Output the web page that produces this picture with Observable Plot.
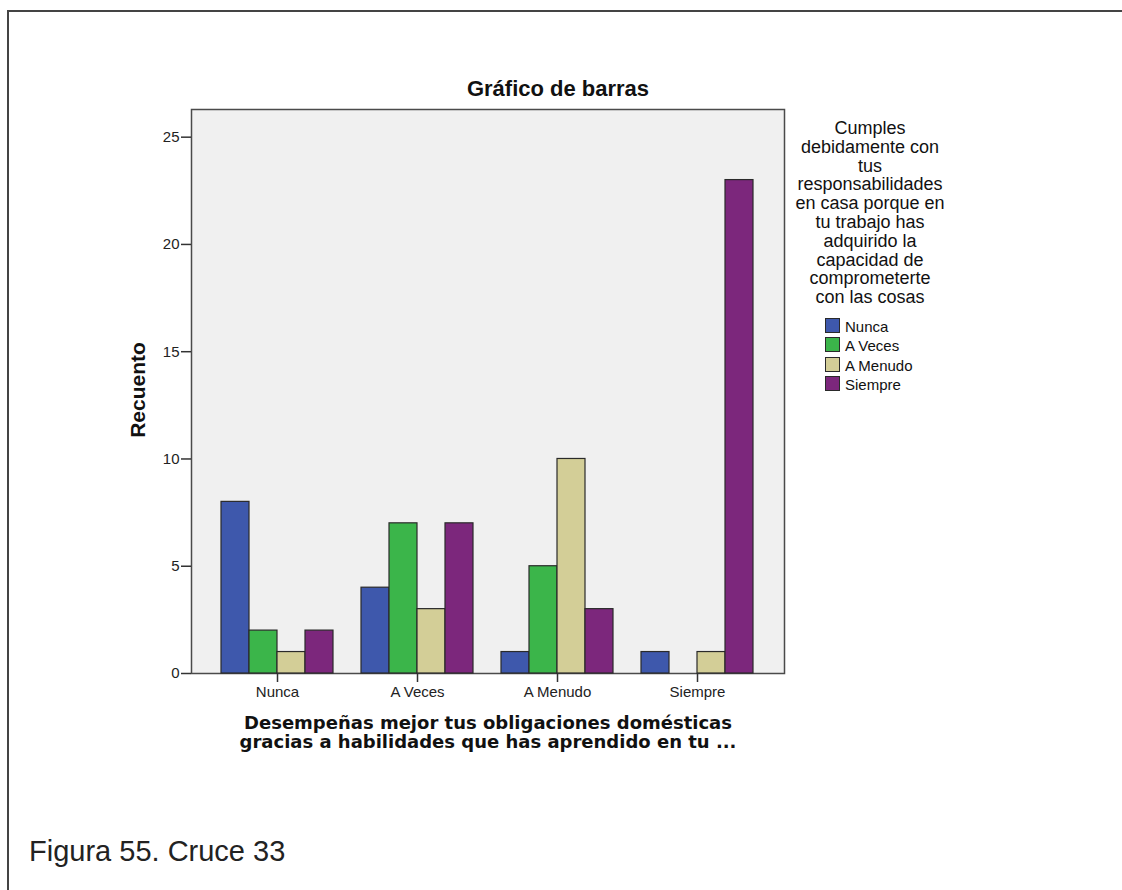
<!DOCTYPE html>
<html>
<head>
<meta charset="utf-8">
<script src="https://cdn.jsdelivr.net/npm/d3@7"></script>
<script src="https://cdn.jsdelivr.net/npm/@observablehq/plot@0.6"></script>
<style>
  body { margin: 0; background: #fff; }
  #page { position: relative; width: 1122px; height: 890px; overflow: hidden;
          font-family: "Liberation Sans", Arial, sans-serif; color: #111; }
  #box { position: absolute; left: 7px; top: 10px; width: 2000px; height: 2000px;
         border-left: 2px solid #444; border-top: 2px solid #444; }
  .layer { position: absolute; left: 0; top: 0; }
  #title { position: absolute; left: 358px; width: 400px; top: 78px; text-align: center;
           font-size: 22px; line-height: 22px; font-weight: bold; white-space: nowrap; }
  #ylabel { position: absolute; left: 137px; top: 390px; font-size: 21px; line-height: 21px;
            font-weight: bold; white-space: nowrap; transform: translate(-50%, -50%) rotate(-90deg); }
  #xlabel { position: absolute; left: 188px; width: 600px; top: 713px; text-align: center;
            font-family: "DejaVu Sans", sans-serif; font-weight: bold; font-size: 18px; line-height: 19px;
            white-space: nowrap; }
  #legend-title { position: absolute; left: 770px; width: 200px; top: 119px; text-align: center;
                  font-size: 18px; line-height: 18.8px; white-space: nowrap; }
  .item { position: absolute; left: 825px; height: 15px; font-size: 15px; line-height: 15px; white-space: nowrap; }
  .sw { position: absolute; left: 0; top: 0; width: 13px; height: 13px; border: 1px solid #2a2a2a; }
  .lab { position: absolute; left: 20px; top: 1px; }
  #caption { position: absolute; left: 29px; top: 837px; font-size: 29px; line-height: 29px; white-space: nowrap; color: #222; }
</style>
</head>
<body>
<div id="page">
  <div id="box"></div>
  <div id="title">Gráfico de barras</div>
  <div id="ylabel">Recuento</div>
  <div id="xlabel">Desempeñas mejor tus obligaciones domésticas<br>gracias a habilidades que has aprendido en tu ...</div>
  <div id="legend-title">Cumples<br>debidamente con<br>tus<br>responsabilidades<br>en casa porque en<br>tu trabajo has<br>adquirido la<br>capacidad de<br>comprometerte<br>con las cosas</div>
  <div id="legend"></div>
  <div id="caption">Figura 55. Cruce 33</div>
</div>
<script>
// Categories on the horizontal axis (groups) and the answer series inside each group
const groups = ["Nunca", "A Veces", "A Menudo", "Siempre"];
const series = ["Nunca", "A Veces", "A Menudo", "Siempre"];

// Counts per series, one value per group (in the order of `groups`)
const countsNunca   = [8, 4, 1, 1];
const countsAVeces  = [2, 7, 5, 0];
const countsAMenudo = [1, 3, 10, 1];
const countsSiempre = [2, 7, 3, 23];

const seriesColors = ["#3e58ac", "#3bb54a", "#d3ce97", "#7c277c"];
const yTicks = [0, 5, 10, 15, 20, 25];
const yMax = 26.29;

const seriesCounts = [countsNunca, countsAVeces, countsAMenudo, countsSiempre];
const rows = [];
groups.forEach((g, gi) => {
  series.forEach((s, si) => rows.push({group: g, series: s, value: seriesCounts[si][gi]}));
});

const W = 1122, H = 780;
const margins = {marginLeft: 191, marginRight: 338, marginTop: 109, marginBottom: 107};
const baseStyle = {fontFamily: "'Liberation Sans', Arial, sans-serif", fontSize: "15px", color: "#222", background: "transparent"};

// Background layer: grey plotting area and the count axis
const back = Plot.plot({
  width: W, height: H, ...margins,
  style: baseStyle,
  y: {domain: [0, yMax]},
  marks: [
    Plot.frame({fill: "#f0f0f0", stroke: "#4a4a4a", strokeWidth: 1.5}),
    Plot.axisY({ticks: yTicks, tickSize: 10, tickPadding: 2, label: null, fontSize: 15,
                stroke: "#333", strokeWidth: 1.5, fill: "#222"})
  ]
});

// Bars layer: one facet per group, one bar per series
const bars = Plot.plot({
  width: W, height: H, ...margins,
  style: baseStyle,
  fx: {domain: groups, paddingInner: 0.185, paddingOuter: 0.203},
  x: {domain: series, axis: null, padding: 0},
  y: {domain: [0, yMax], axis: null},
  color: {domain: series, range: seriesColors},
  marks: [
    Plot.axisFx({anchor: "bottom", tickSize: 9, tickPadding: 4, label: null, fontSize: 15,
                 stroke: "#333", strokeWidth: 1.5, fill: "#222"}),
    Plot.barY(rows, {
      fx: "group", x: "series", y: "value", fill: "series",
      stroke: "#2a2a2a", strokeWidth: 1.2,
      filter: d => d.value > 0
    })
  ]
});

back.classList.add("layer");
bars.classList.add("layer");
const page = document.getElementById("page");
page.insertBefore(back, document.getElementById("title"));
page.insertBefore(bars, document.getElementById("title"));

// Legend swatches built from the series and colour arrays
const legend = document.getElementById("legend");
series.forEach((s, i) => {
  const item = document.createElement("div");
  item.className = "item";
  item.style.top = (318 + i * 19.3) + "px";
  const sw = document.createElement("div");
  sw.className = "sw";
  sw.style.background = seriesColors[i];
  const lab = document.createElement("div");
  lab.className = "lab";
  lab.textContent = s;
  item.appendChild(sw);
  item.appendChild(lab);
  legend.appendChild(item);
});
</script>
</body>
</html>
